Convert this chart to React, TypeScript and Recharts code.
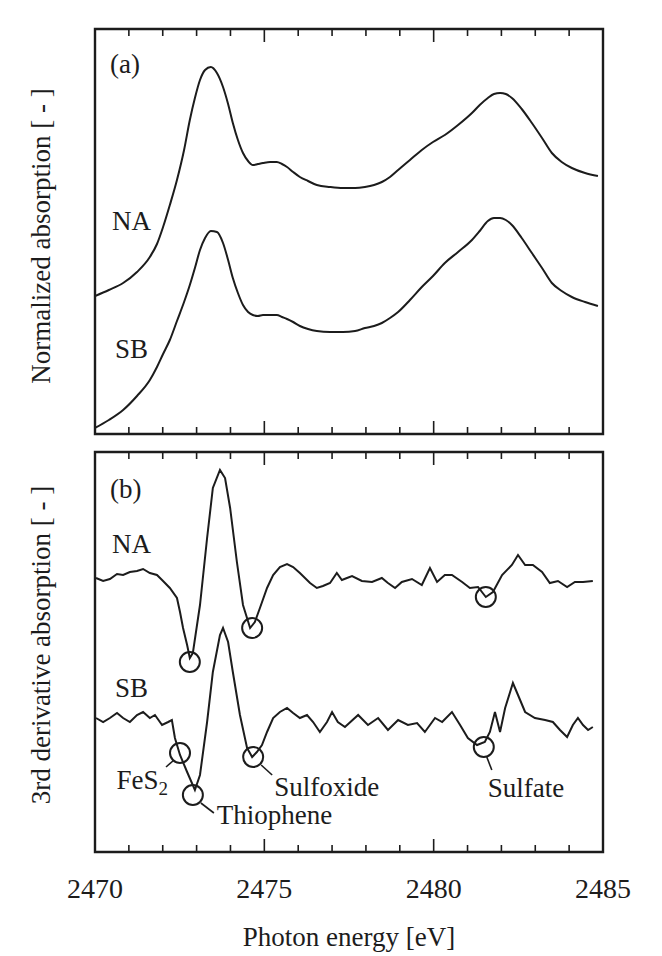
import React from 'react';
import { ComposedChart, Line, XAxis, YAxis, Scatter, ReferenceArea, Customized } from 'recharts';

const FONT = "'Liberation Serif', 'DejaVu Serif', 'Noto Serif', serif";
const INK = '#1c1c1c';
const serif = { fontFamily: FONT };

// ---------- axis ticks ----------
const xTicks = [2470, 2471, 2472, 2473, 2474, 2475, 2476, 2477, 2478, 2479, 2480, 2481, 2482, 2483, 2484, 2485];
const xTickLabels = [2470, 2475, 2480, 2485];

// ---------- panel (a): normalized absorption ----------
const energyA = [2470.00, 2470.41, 2470.83, 2471.24, 2471.62, 2471.83, 2472.01, 2472.21, 2472.42, 2472.63, 2472.80, 2472.95, 2473.10, 2473.25, 2473.42, 2473.60, 2473.78, 2473.93, 2474.07, 2474.22, 2474.37, 2474.52, 2474.66, 2474.81, 2474.96, 2475.17, 2475.37, 2475.52, 2475.67, 2475.85, 2476.05, 2476.29, 2476.55, 2476.94, 2477.32, 2477.68, 2477.97, 2478.24, 2478.47, 2478.71, 2478.95, 2479.30, 2479.65, 2479.98, 2480.33, 2480.72, 2481.13, 2481.36, 2481.60, 2481.78, 2481.96, 2482.13, 2482.31, 2482.60, 2482.90, 2483.20, 2483.49, 2483.78, 2484.08, 2484.47, 2484.85];
const naAbsorption = [1.38, 1.44, 1.51, 1.62, 1.77, 1.90, 2.07, 2.29, 2.54, 2.84, 3.14, 3.36, 3.54, 3.64, 3.67, 3.61, 3.47, 3.30, 3.11, 2.94, 2.81, 2.73, 2.69, 2.70, 2.71, 2.72, 2.72, 2.70, 2.67, 2.62, 2.57, 2.53, 2.49, 2.47, 2.46, 2.46, 2.47, 2.49, 2.52, 2.57, 2.64, 2.74, 2.84, 2.92, 2.99, 3.09, 3.21, 3.29, 3.36, 3.40, 3.41, 3.40, 3.36, 3.25, 3.11, 2.96, 2.81, 2.72, 2.66, 2.61, 2.58];
const sbAbsorption = [0.06, 0.14, 0.24, 0.38, 0.54, 0.67, 0.80, 0.94, 1.13, 1.32, 1.49, 1.66, 1.84, 1.96, 2.03, 2.02, 1.91, 1.74, 1.56, 1.41, 1.29, 1.22, 1.19, 1.18, 1.19, 1.19, 1.19, 1.17, 1.15, 1.12, 1.08, 1.05, 1.03, 1.02, 1.02, 1.03, 1.06, 1.08, 1.11, 1.16, 1.22, 1.34, 1.47, 1.58, 1.71, 1.82, 1.94, 2.03, 2.13, 2.16, 2.16, 2.14, 2.09, 1.96, 1.81, 1.66, 1.51, 1.43, 1.37, 1.32, 1.28];

// ---------- panel (b): 3rd derivative ----------
const naDerivEnergy = [2470.03, 2470.24, 2470.44, 2470.65, 2470.83, 2471.03, 2471.24, 2471.42, 2471.62, 2471.83, 2471.98, 2472.21, 2472.42, 2472.51, 2472.60, 2472.72, 2472.80, 2472.89, 2473.10, 2473.31, 2473.48, 2473.69, 2473.84, 2473.99, 2474.19, 2474.37, 2474.58, 2474.72, 2474.87, 2475.08, 2475.26, 2475.46, 2475.67, 2475.85, 2476.05, 2476.35, 2476.55, 2476.73, 2476.94, 2477.14, 2477.29, 2477.44, 2477.59, 2477.88, 2478.18, 2478.47, 2478.65, 2478.86, 2479.06, 2479.36, 2479.65, 2479.89, 2480.10, 2480.33, 2480.54, 2480.84, 2481.07, 2481.31, 2481.54, 2481.75, 2482.02, 2482.31, 2482.49, 2482.70, 2482.93, 2483.20, 2483.43, 2483.67, 2483.94, 2484.17, 2484.41, 2484.70];
const naDerivative = [2.74, 2.71, 2.73, 2.78, 2.77, 2.80, 2.81, 2.83, 2.79, 2.77, 2.72, 2.64, 2.54, 2.40, 2.24, 2.07, 1.94, 1.99, 2.47, 3.14, 3.64, 3.82, 3.74, 3.44, 2.90, 2.47, 2.24, 2.30, 2.44, 2.64, 2.77, 2.85, 2.88, 2.85, 2.79, 2.69, 2.64, 2.66, 2.69, 2.79, 2.72, 2.74, 2.76, 2.71, 2.70, 2.74, 2.69, 2.64, 2.70, 2.73, 2.67, 2.84, 2.70, 2.77, 2.77, 2.70, 2.64, 2.65, 2.55, 2.60, 2.77, 2.87, 2.97, 2.87, 2.87, 2.80, 2.69, 2.71, 2.65, 2.70, 2.70, 2.71];

const sbDerivEnergy = [2470.03, 2470.24, 2470.44, 2470.65, 2470.83, 2471.03, 2471.24, 2471.42, 2471.62, 2471.77, 2471.98, 2472.16, 2472.27, 2472.36, 2472.51, 2472.72, 2472.95, 2473.10, 2473.31, 2473.48, 2473.69, 2473.78, 2473.93, 2474.07, 2474.28, 2474.49, 2474.64, 2474.78, 2474.93, 2475.08, 2475.26, 2475.46, 2475.67, 2475.85, 2476.05, 2476.26, 2476.44, 2476.64, 2476.85, 2477.00, 2477.17, 2477.38, 2477.77, 2478.06, 2478.36, 2478.65, 2478.95, 2479.24, 2479.51, 2479.74, 2480.04, 2480.25, 2480.54, 2480.78, 2481.01, 2481.28, 2481.51, 2481.66, 2481.81, 2481.96, 2482.11, 2482.34, 2482.49, 2482.70, 2482.99, 2483.29, 2483.52, 2483.73, 2483.94, 2484.11, 2484.26, 2484.41, 2484.56, 2484.70];
const sbDerivative = [1.34, 1.30, 1.34, 1.39, 1.34, 1.30, 1.37, 1.40, 1.34, 1.37, 1.27, 1.30, 1.32, 1.14, 0.97, 0.80, 0.62, 0.77, 1.30, 1.80, 2.17, 2.24, 2.10, 1.80, 1.37, 1.04, 0.95, 1.00, 1.07, 1.20, 1.34, 1.40, 1.44, 1.39, 1.34, 1.37, 1.30, 1.20, 1.30, 1.40, 1.30, 1.25, 1.37, 1.27, 1.34, 1.22, 1.32, 1.27, 1.29, 1.20, 1.34, 1.30, 1.40, 1.27, 1.14, 1.07, 1.10, 1.20, 1.40, 1.20, 1.44, 1.69, 1.57, 1.40, 1.34, 1.32, 1.30, 1.22, 1.15, 1.27, 1.34, 1.27, 1.22, 1.25];

// circled peaks
const naPeakEnergy = [2472.80, 2474.64, 2481.54];
const naPeakValue = [1.90, 2.24, 2.55];
const sbPeakEnergy = [2472.51, 2472.89, 2474.67, 2481.48];
const sbPeakValue = [0.99, 0.57, 0.95, 1.05];
const sbPeakLabels = ['FeS2', 'Thiophene', 'Sulfoxide', 'Sulfate'];

const zip = (xs: number[], ys: number[]) => xs.map((e, i) => ({ e, v: ys[i] }));
const naA = zip(energyA, naAbsorption);
const sbA = zip(energyA, sbAbsorption);
const naB = zip(naDerivEnergy, naDerivative);
const sbB = zip(sbDerivEnergy, sbDerivative);
const naPeaks = zip(naPeakEnergy, naPeakValue);
const sbPeaks = sbPeakEnergy.map((e, i) => ({ e, v: sbPeakValue[i], label: sbPeakLabels[i] }));

// pixel offsets of leader lines / labels relative to each circle
const labelLayout: Record<string, { l1: number[]; l2: number[]; t: number[]; anchor: string }> = {
  FeS2: { l1: [-6, 7], l2: [-14, 14], t: [-12, 36], anchor: 'end' },
  Thiophene: { l1: [8, 8], l2: [21, 18], t: [24, 29], anchor: 'start' },
  Sulfoxide: { l1: [8, 8], l2: [19, 18], t: [21, 39], anchor: 'start' },
  Sulfate: { l1: [3, 10], l2: [8, 23], t: [4, 50], anchor: 'start' },
};

const PeakMarker = (props: any) => {
  const { cx, cy, payload } = props;
  const lay = payload && payload.label ? labelLayout[payload.label] : null;
  return (
    <g>
      <circle cx={cx} cy={cy} r={10} fill="none" stroke={INK} strokeWidth={2} />
      {lay && (
        <line x1={cx + lay.l1[0]} y1={cy + lay.l1[1]} x2={cx + lay.l2[0]} y2={cy + lay.l2[1]} stroke={INK} strokeWidth={1.6} />
      )}
      {lay && (
        <text x={cx + lay.t[0]} y={cy + lay.t[1]} textAnchor={lay.anchor as any} style={serif} fontSize={27} fill={INK}>
          {payload.label === 'FeS2' ? (
            <>
              FeS<tspan dy={6} fontSize={19}>2</tspan>
            </>
          ) : (
            payload.label
          )}
        </text>
      )}
    </g>
  );
};

const makeTick = (side: 'top' | 'bottom', withLabel: boolean) => (props: any) => {
  const { x, y, payload } = props;
  const major = payload.value % 5 === 0;
  const len = major ? 13 : 7;
  const dir = side === 'bottom' ? -1 : 1;
  return (
    <g>
      <line x1={x} x2={x} y1={y} y2={y + dir * len} stroke={INK} strokeWidth={1.6} />
      {withLabel && xTickLabels.includes(payload.value) && (
        <text x={x} y={y + 46} textAnchor="middle" style={serif} fontSize={28} fill={INK}>
          {payload.value}
        </text>
      )}
    </g>
  );
};

const TextBlock = ({ items, ylabel, ylx, yly }: any) => (
  <g fill={INK}>
    <text x={ylx} y={yly} transform={`rotate(-90 ${ylx} ${yly})`} textAnchor="middle" fontSize={27} style={serif}>
      {ylabel}
    </text>
    {items.map((it: any, i: number) => (
      <text key={i} x={it.x} y={it.y} fontSize={27} style={serif}>
        {it.t}
      </text>
    ))}
  </g>
);

const frameProps = { fill: 'none', stroke: INK, strokeWidth: 2.4, fillOpacity: 0, strokeOpacity: 1 };

export default function App() {
  return (
    <div style={{ position: 'absolute', left: 0, top: 0, width: 662, height: 956, background: '#fff', fontFamily: FONT }}>
      <div style={{ position: 'absolute', left: 0, top: 0 }}>
        <ComposedChart width={662} height={450} margin={{ top: 28, right: 59, bottom: 15, left: 95 }}>
          <XAxis dataKey="e" type="number" domain={[2470, 2485]} ticks={xTicks} interval={0} allowDataOverflow
            axisLine={false} tickLine={false} tickSize={0} tickMargin={0} height={1} tick={makeTick('bottom', false)} />
          <XAxis xAxisId="top" orientation="top" dataKey="e" type="number" domain={[2470, 2485]} ticks={xTicks} interval={0} allowDataOverflow
            axisLine={false} tickLine={false} tickSize={0} tickMargin={0} height={1} tick={makeTick('top', false)} />
          <YAxis type="number" domain={[0, 4.05]} hide allowDataOverflow />
          <ReferenceArea x1={2470} x2={2485} y1={0} y2={4.05} {...frameProps} />
          <Line data={naA} dataKey="v" type="monotone" stroke={INK} strokeWidth={2} dot={false} isAnimationActive={false} />
          <Line data={sbA} dataKey="v" type="monotone" stroke={INK} strokeWidth={2} dot={false} isAnimationActive={false} />
          <Customized component={() => (
            <TextBlock ylabel="Normalized absorption [ - ]" ylx={50} yly={236}
              items={[{ x: 110, y: 73, t: '(a)' }, { x: 112, y: 230, t: 'NA' }, { x: 115, y: 358, t: 'SB' }]} />
          )} />
        </ComposedChart>
      </div>
      <div style={{ position: 'absolute', left: 0, top: 440 }}>
        <ComposedChart width={662} height={516} margin={{ top: 11, right: 59, bottom: 103, left: 95 }}>
          <XAxis dataKey="e" type="number" domain={[2470, 2485]} ticks={xTicks} interval={0} allowDataOverflow
            axisLine={false} tickLine={false} tickSize={0} tickMargin={0} height={1} tick={makeTick('bottom', true)}
            label={{ value: 'Photon energy [eV]', position: 'bottom', offset: 74, fontSize: 27, style: serif, fill: INK }} />
          <XAxis xAxisId="top" orientation="top" dataKey="e" type="number" domain={[2470, 2485]} ticks={xTicks} interval={0} allowDataOverflow
            axisLine={false} tickLine={false} tickSize={0} tickMargin={0} height={1} tick={makeTick('top', false)} />
          <YAxis type="number" domain={[0, 4]} hide allowDataOverflow />
          <ReferenceArea x1={2470} x2={2485} y1={0} y2={4} {...frameProps} />
          <Line data={naB} dataKey="v" type="linear" stroke={INK} strokeWidth={2} dot={false} isAnimationActive={false} />
          <Line data={sbB} dataKey="v" type="linear" stroke={INK} strokeWidth={2} dot={false} isAnimationActive={false} />
          <Scatter data={naPeaks} dataKey="v" shape={PeakMarker} isAnimationActive={false} />
          <Scatter data={sbPeaks} dataKey="v" shape={PeakMarker} isAnimationActive={false} />
          <Customized component={() => (
            <TextBlock ylabel="3rd derivative absorption [ - ]" ylx={50} yly={205}
              items={[{ x: 110, y: 58, t: '(b)' }, { x: 112, y: 113, t: 'NA' }, { x: 115, y: 257, t: 'SB' }]} />
          )} />
        </ComposedChart>
      </div>
    </div>
  );
}
